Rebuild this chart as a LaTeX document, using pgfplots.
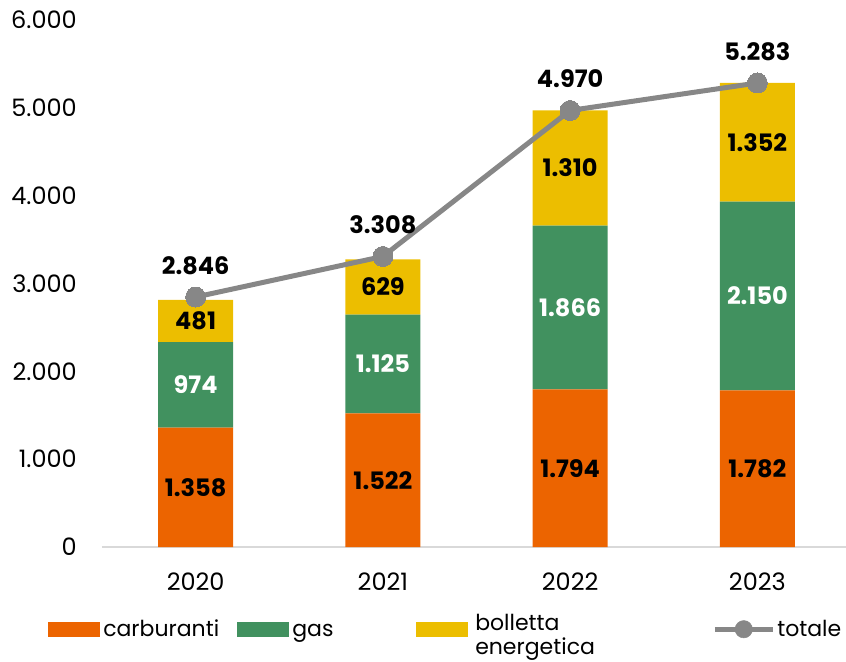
\documentclass[border=0pt]{standalone}
\usepackage{pgfplots}
\pgfplotsset{compat=1.18}
\usepackage{fontspec}
\setmainfont{Poppins}
\definecolor{cOrange}{HTML}{EC6400}
\definecolor{cGreen}{HTML}{41915F}
\definecolor{cYellow}{HTML}{ECBE00}
\definecolor{cGray}{HTML}{878787}
\definecolor{cAxis}{HTML}{D9D9D9}
\tikzset{
  numfont/.style={font=\fontsize{18}{20}\selectfont},
  boldfont/.style={font=\bfseries\fontsize{18}{20}\selectfont},
}
\begin{document}
\begin{tikzpicture}
\pgfplotsset{
  base/.style={
    scale only axis, width=561.75pt, height=395.25pt,
    xmin=-0.5, xmax=3.5, ymin=0, ymax=6000,
    enlargelimits=false, clip=false,
    at={(0pt,0pt)}, anchor=south west,
  },
}
\begin{axis}[base,
  ybar stacked, bar width=56.25pt,
  axis line style={draw=none},
  major tick length=0pt, tick style={draw=none},
  xtick={0,1,2,3}, xticklabels={2020,2021,2022,2023},
  ytick={0,1000,...,6000},
  scaled y ticks=false,
  /pgf/number format/assume math mode=true,
  /pgf/number format/.cd, 1000 sep={.}, /pgfplots/.cd,
  tick label style={numfont},
  xticklabel style={anchor=north, inner sep=0pt, yshift=-19.5pt},
  yticklabel style={anchor=east, inner sep=0pt, xshift=-18.75pt},
  extra y ticks={0}, extra y tick labels={},
  extra y tick style={grid=major, major grid style={cAxis, line width=1.1pt}},
  legend columns=4,
  legend style={at={(-0.0721,-0.1560)}, anchor=west, draw=none, fill=none,
    inner sep=0pt, column sep=0pt, row sep=0pt,
    cells={anchor=west}, nodes={inner sep=0pt},
    font=\fontsize{16.5}{18}\selectfont},
]
\addplot[fill=cOrange, draw=none,
  legend image code/.code={\fill[cOrange] (0pt,-5.625pt) rectangle (39pt,5.625pt);}]
  coordinates {(0,1358) (1,1522) (2,1794) (3,1782)};
\addlegendentry{\hspace*{2.25pt}\makebox[100.5pt][l]{carburanti\vphantom{bg}}}
\addplot[fill=cGreen, draw=none,
  legend image code/.code={\fill[cGreen] (0pt,-5.625pt) rectangle (39pt,5.625pt);}]
  coordinates {(0,974) (1,1125) (2,1866) (3,2150)};
\addlegendentry{\hspace*{2.25pt}\makebox[93pt][l]{gas\vphantom{bg}}}
\addplot[fill=cYellow, draw=none,
  legend image code/.code={\fill[cYellow] (0pt,-5.625pt) rectangle (39pt,5.625pt);}]
  coordinates {(0,481) (1,629) (2,1310) (3,1352)};
\addlegendentry{\hspace*{5.25pt}\parbox[c]{177.75pt}{bolletta\\energetica}}
\addlegendimage{legend image code/.code={\draw[cGray, line width=3.75pt] (0pt,0pt) -- (43.5pt,0pt); \fill[cGray] (21.75pt,0pt) circle (6.5pt);}}
\addlegendentry{\hspace*{1.5pt}totale\vphantom{bg}}
\end{axis}
\begin{axis}[base, axis lines=none, xtick=\empty, ytick=\empty]
% totals line
\addplot[cGray, line width=3.75pt, mark=*, mark size=7.5pt,
  mark options={fill=cGray, draw=cGray, line width=0pt},
  point meta=explicit symbolic, nodes near coords,
  every node near coord/.append style={boldfont, text=black, anchor=base, yshift=17pt, inner sep=0pt}]
  coordinates {(0,2846)[2.846] (1,3308)[3.308] (2,4970)[4.970] (3,5283)[5.283]};
% labels inside bars (black)
\addplot[draw=none, mark=none, point meta=explicit symbolic, nodes near coords,
  every node near coord/.append style={boldfont, text=black, anchor=center, inner sep=0pt}]
  coordinates {(0,679)[1.358] (1,761)[1.522] (2,897)[1.794] (3,891)[1.782]
               (0,2572)[481] (1,2961)[629] (2,4315)[1.310] (3,4608)[1.352]};
% labels inside green bars (white)
\addplot[draw=none, mark=none, point meta=explicit symbolic, nodes near coords,
  every node near coord/.append style={boldfont, text=white, anchor=center, inner sep=0pt}]
  coordinates {(0,1845)[974] (1,2084)[1.125] (2,2727)[1.866] (3,2857)[2.150]};
\end{axis}
\pgfresetboundingbox
\path (-76.5pt,-85.5pt) rectangle (558pt,410.25pt);
\end{tikzpicture}
\end{document}
